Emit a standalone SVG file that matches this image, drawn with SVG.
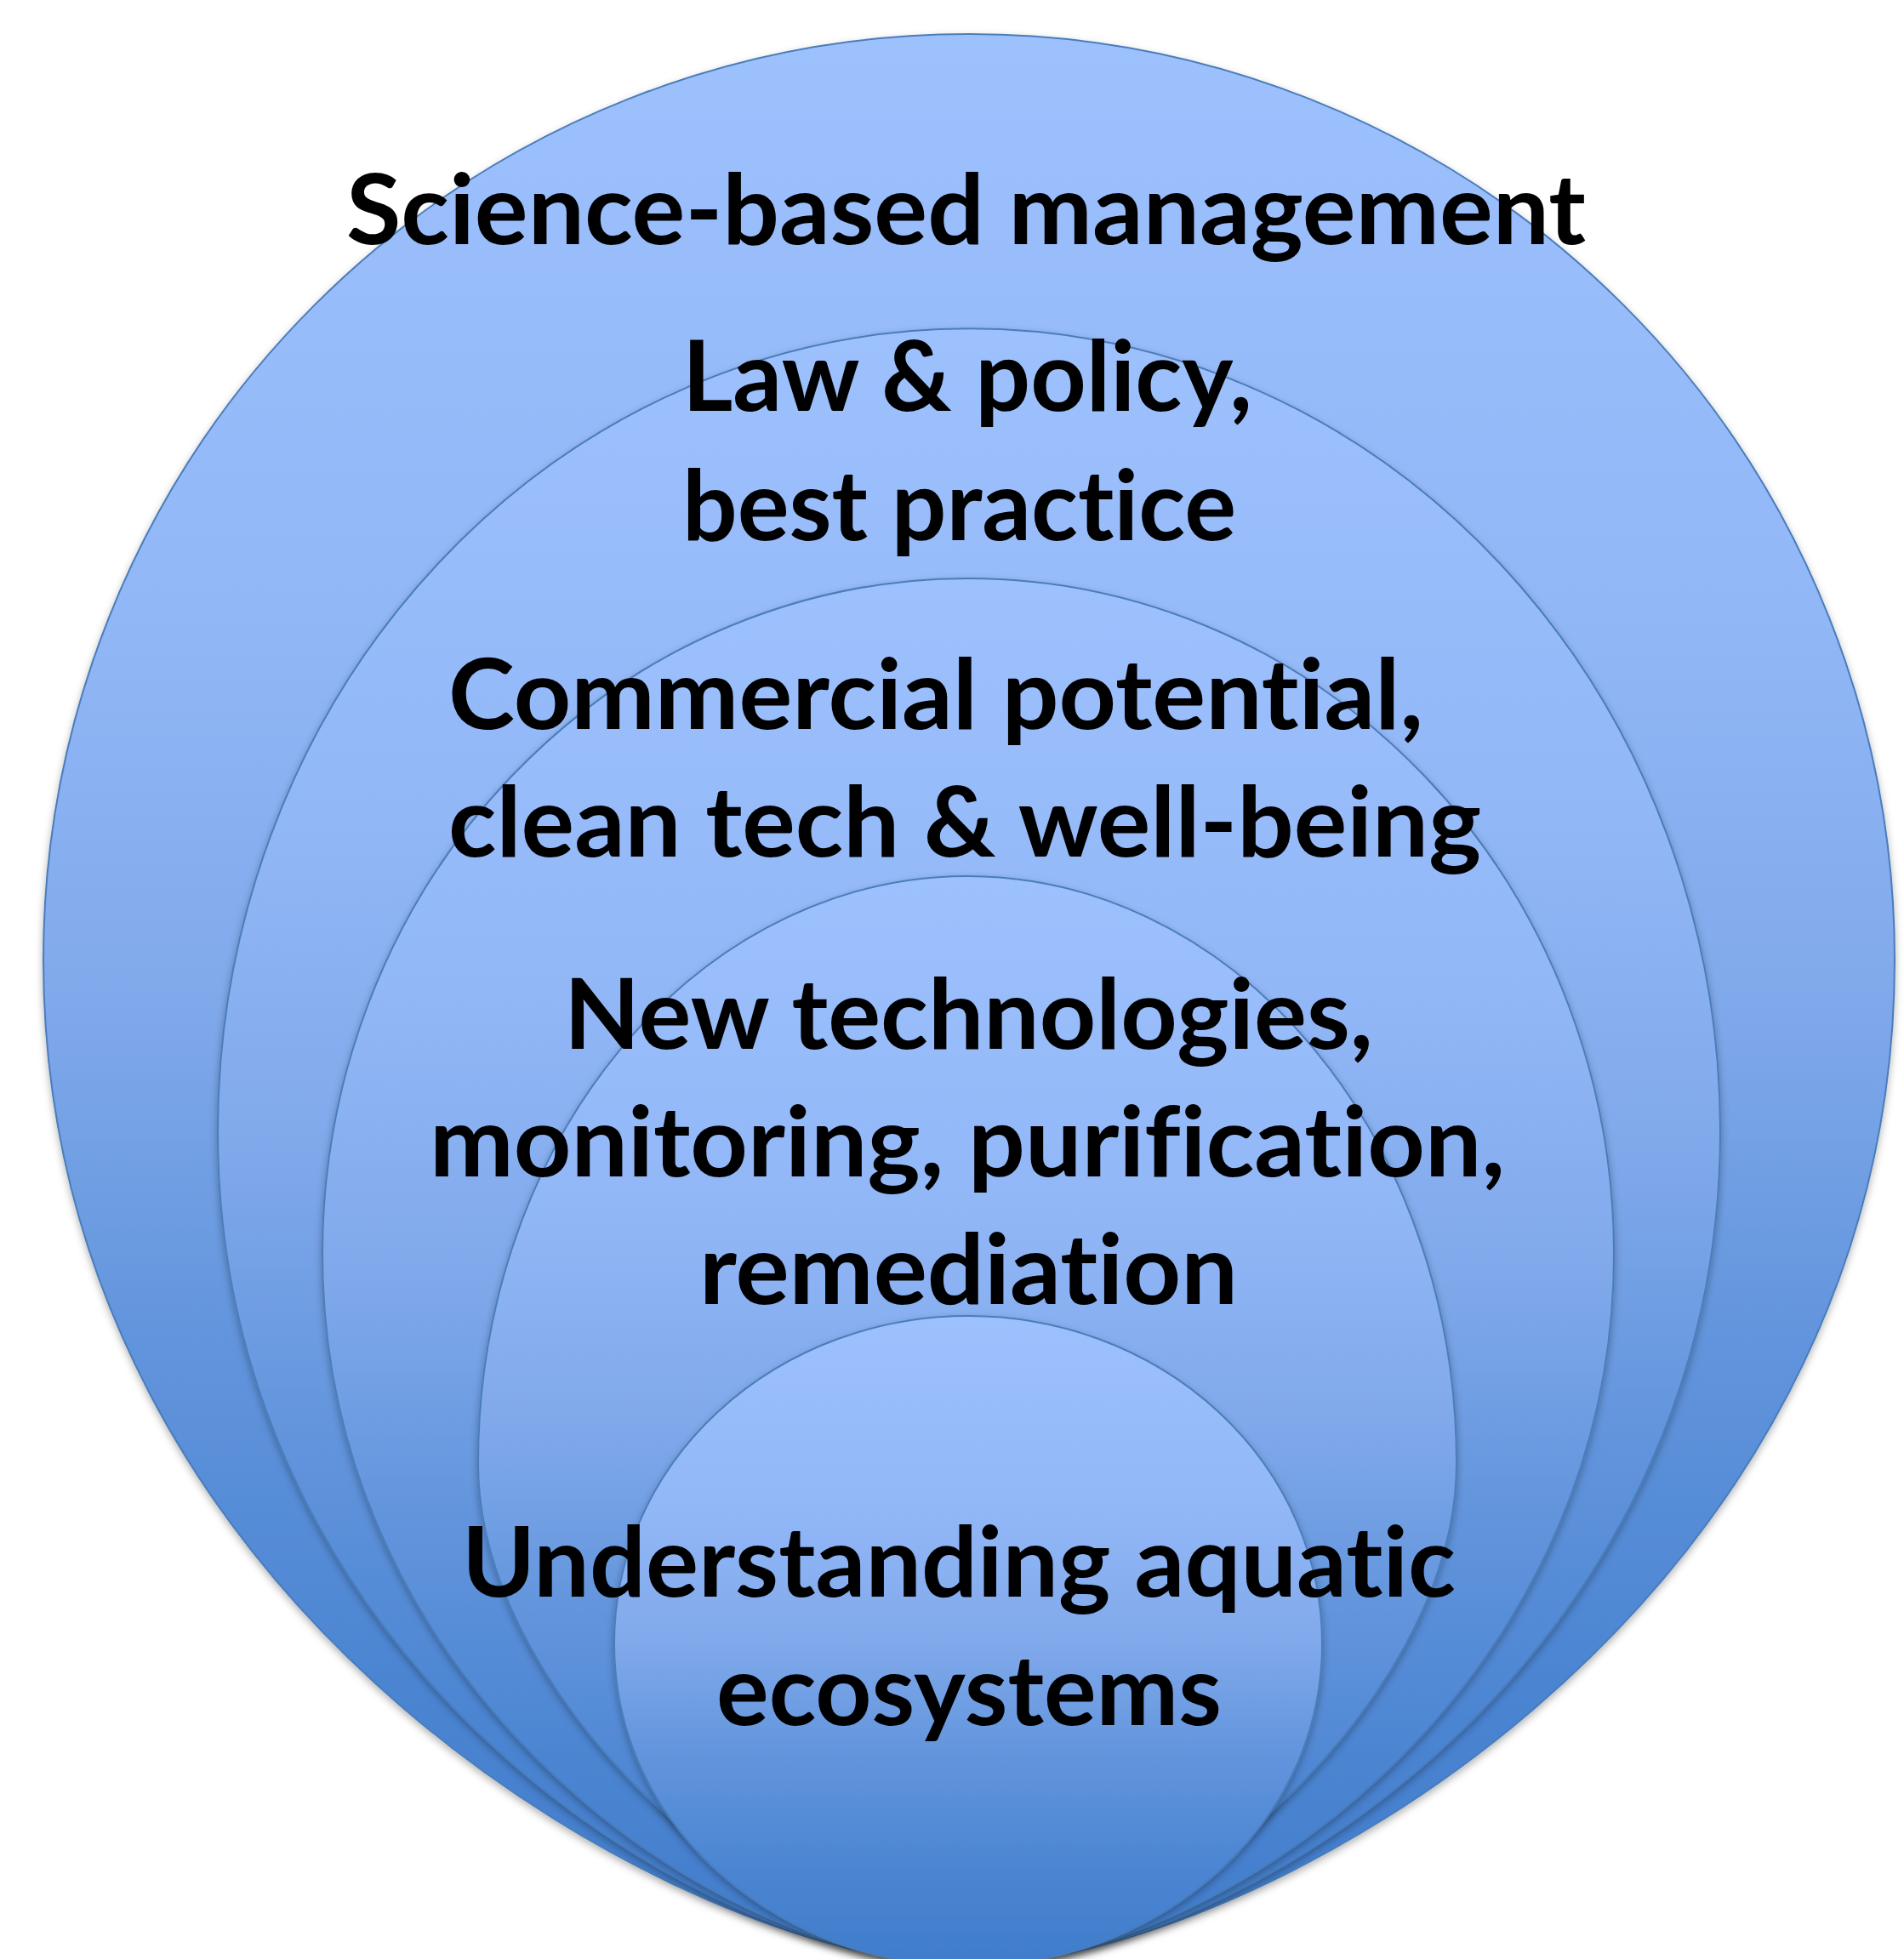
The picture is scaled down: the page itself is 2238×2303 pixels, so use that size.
<svg xmlns="http://www.w3.org/2000/svg" width="2238" height="2303" viewBox="0 0 2238 2303">
  <defs>
    <linearGradient id="fillGrad" x1="0" y1="0" x2="0" y2="1">
      <stop offset="0" stop-color="#9DC1FD"/>
      <stop offset="0.3" stop-color="#92B7F7"/>
      <stop offset="0.5" stop-color="#80A9EB"/>
      <stop offset="0.68" stop-color="#6194DC"/>
      <stop offset="0.85" stop-color="#4C85D2"/>
      <stop offset="1" stop-color="#3F7CCB"/>
    </linearGradient>
    <filter id="shadow" x="-5%" y="-5%" width="110%" height="110%">
      <feDropShadow dx="0" dy="4" stdDeviation="5" flood-color="#000000" flood-opacity="0.3"/>
    </filter>
    <style>
      .ring { fill: url(#fillGrad); stroke: #4A7DBA; stroke-width: 2; filter: url(#shadow); }
      .label { font-family: Lato, "Open Sans", "DejaVu Sans", sans-serif; font-weight: 700; font-size: 114px; fill: #000000; font-variant-ligatures: none; font-feature-settings: "liga" 0, "clig" 0; }
    </style>
  </defs>
  <rect x="0" y="0" width="2238" height="2303" fill="#FFFFFF"/>

  <g id="connectors"></g>

  <g id="node-science">
    <path class="ring" d="M 51,1128 A 1088 1088 0 0 1 2227,1128 C 2227,1896 1465,2310 1139,2310 C 813,2310 51,1896 51,1128 Z"/>
    <text class="label" x="407" y="287" textLength="1457" lengthAdjust="spacingAndGlyphs">Science-based management</text>
  </g>

  <g id="node-law">
    <path class="ring" d="M 256,1330 A 883 944 0 0 1 2022,1330 C 2022,1957 1448,2310 1139,2310 C 830,2310 256,1957 256,1330 Z"/>
    <text class="label" x="802" y="483" textLength="670" lengthAdjust="spacingAndGlyphs">Law &amp; policy,</text>
    <text class="label" x="802" y="635" textLength="651" lengthAdjust="spacingAndGlyphs">best practice</text>
  </g>

  <g id="node-commercial">
    <path class="ring" d="M 379,1474 A 759 794 0 0 1 1897,1474 C 1897,1992 1426,2310 1138,2310 C 850,2310 379,1992 379,1474 Z"/>
    <text class="label" x="527" y="857" textLength="1146" lengthAdjust="spacingAndGlyphs">Commercial potential,</text>
    <text class="label" x="527" y="1007" textLength="1214" lengthAdjust="spacingAndGlyphs">clean tech &amp; well-being</text>
  </g>

  <g id="node-technologies">
    <path class="ring" d="M 562,1720 A 575 690 0 0 1 1712,1720 C 1712,2015 1338,2310 1137,2310 C 936,2310 562,2015 562,1720 Z"/>
    <text class="label" x="663" y="1233" textLength="951" lengthAdjust="spacingAndGlyphs">New technologies,</text>
    <text class="label" x="505" y="1383" textLength="1264" lengthAdjust="spacingAndGlyphs">monitoring, purification,</text>
    <text class="label" x="822" y="1533" textLength="633" lengthAdjust="spacingAndGlyphs">remediation</text>
  </g>

  <g id="node-understanding">
    <path class="ring" d="M 722,1932 A 416 385 0 0 1 1554,1932 C 1554,2160 1346,2312 1138,2312 C 930,2312 722,2160 722,1932 Z"/>
    <text class="label" x="543" y="1877" textLength="1168" lengthAdjust="spacingAndGlyphs">Understanding aquatic</text>
    <text class="label" x="842" y="2028" textLength="594" lengthAdjust="spacingAndGlyphs">ecosystems</text>
  </g>
</svg>
